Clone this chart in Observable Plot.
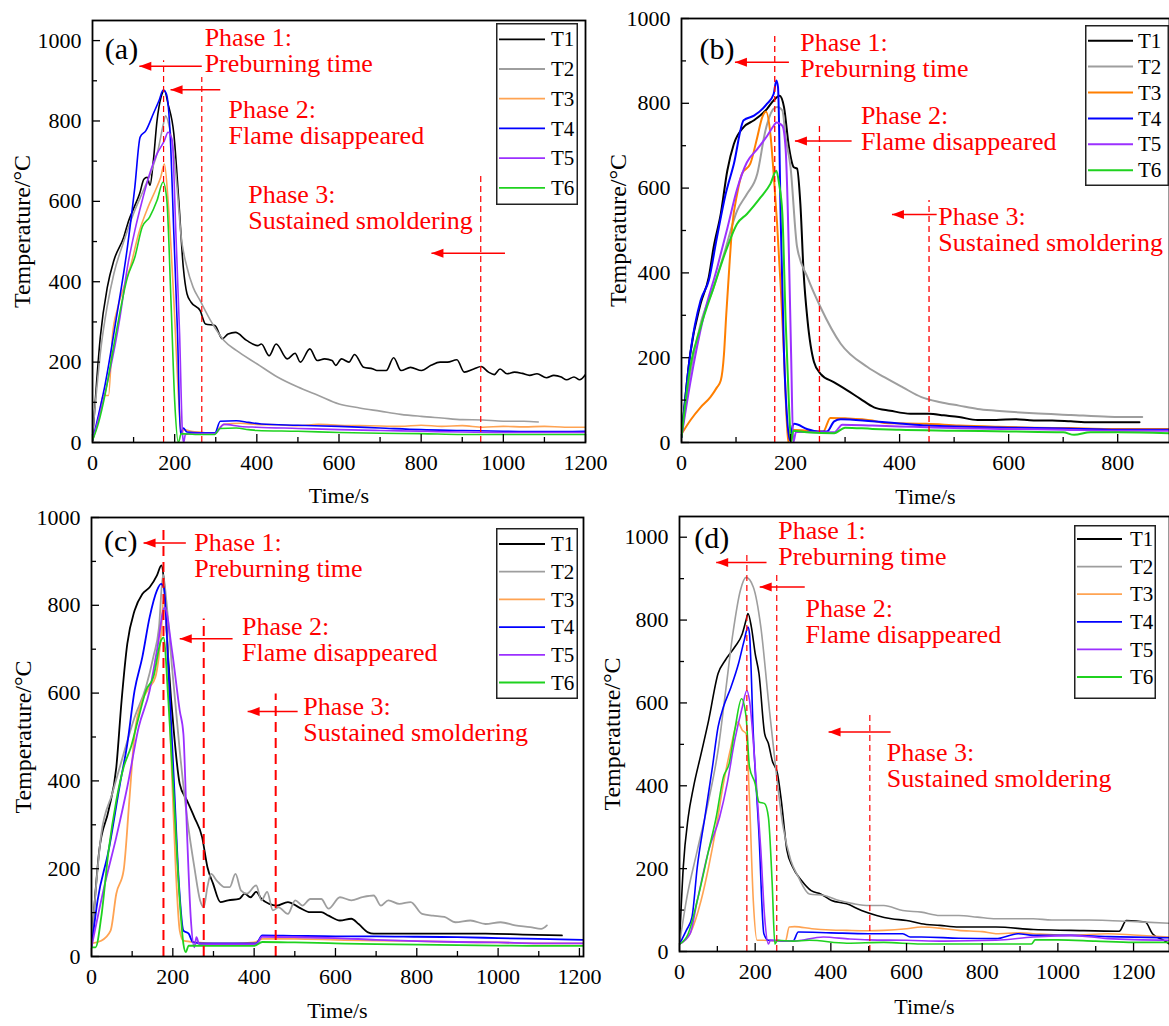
<!DOCTYPE html>
<html><head><meta charset="utf-8">
<script src="https://cdn.jsdelivr.net/npm/d3@7"></script>
<script src="https://cdn.jsdelivr.net/npm/@observablehq/plot@0.6"></script>
<style>
body{margin:0;background:#fff;}
#root{position:relative;width:1169px;height:1026px;overflow:hidden;font-family:'Liberation Serif','Times New Roman','DejaVu Serif',serif;background:#fff;}
.panel{position:absolute;}
#root svg, #root svg text{font-family:'Liberation Serif','Times New Roman','DejaVu Serif',serif !important;}
</style></head><body><div id="root"></div>
<script>
// ---------- series names and tick labels ----------
const seriesNames = ["T1","T2","T3","T4","T5","T6"];
const yMajor = [0,200,400,600,800,1000];
const yMinor = [100,300,500,700,900];
const xMajorA = [0,200,400,600,800,1000,1200];
const xMinorA = [100,300,500,700,900,1100];
const xMajorB = [0,200,400,600,800];
const xMinorB = [100,300,500,700];
const xMajorC = [0,200,400,600,800,1000,1200];
const xMinorC = [100,300,500,700,900,1100];
const xMajorD = [0,200,400,600,800,1000,1200];
const xMinorD = [100,300,500,700,900,1100];

// ---------- panel (a) ----------
const aT1 = [[0,5],[10,150],[19,262],[36,386],[52,453],[76,511],[88,552],[100,582],[115,620],[125,655],[133,660],[140,640],[148,700],[157,800],[167,860],[175,876],[184,842],[198,768],[210,602],[221,436],[230,370],[240,349],[262,328],[275,295],[298,291],[316,258],[330,270],[348,274],[375,254],[402,241],[411,245],[430,216],[447,245],[474,208],[493,222],[506,200],[529,233],[547,204],[565,208],[583,204],[592,192],[606,208],[624,200],[638,219],[660,187],[683,183],[692,179],[715,179],[733,211],[751,179],[774,187],[801,179],[824,192],[846,200],[864,200],[887,206],[905,175],[928,183],[946,189],[964,175],[978,169],[992,183],[1009,171],[1027,175],[1046,172],[1064,167],[1082,171],[1105,161],[1123,167],[1141,163],[1154,156],[1172,163],[1186,156],[1200,169]];
const aT2 = [[0,20],[10,130],[20,230],[36,340],[52,420],[76,500],[100,570],[125,630],[145,680],[160,730],[172,790],[178,813],[188,780],[198,718],[207,620],[215,520],[230,436],[245,386],[262,353],[290,299],[320,254],[350,229],[400,196],[450,163],[500,138],[550,117],[600,96],[650,86],[700,78],[750,70],[800,65],[850,61],[900,57],[950,56],[1000,53],[1050,53],[1085,51]];
const aT3 = [[0,5],[15,60],[26,117],[39,117],[49,270],[60,330],[76,386],[94,444],[112,519],[135,585],[153,627],[166,660],[175,693],[184,602],[198,353],[210,104],[216,22],[222,32],[240,28],[270,25],[298,22],[310,38],[320,45],[360,48],[400,45],[450,44],[500,42],[550,45],[600,43],[650,42],[700,41],[750,40],[800,43],[850,40],[900,42],[950,38],[1000,40],[1050,39],[1100,40],[1150,38],[1200,38]];
const aT4 = [[0,5],[15,70],[31,146],[57,303],[85,486],[103,635],[116,760],[130,776],[148,818],[162,851],[172,877],[180,867],[189,768],[198,519],[207,270],[214,22],[221,36],[230,26],[260,24],[298,24],[311,53],[350,54],[380,50],[411,46],[500,43],[600,40],[700,36],[800,32],[900,30],[1000,28],[1100,27],[1200,28]];
const aT5 = [[0,5],[20,80],[39,162],[67,312],[85,436],[103,527],[121,602],[139,668],[157,718],[175,751],[184,772],[194,751],[203,519],[212,270],[219,22],[222,0],[226,20],[240,22],[298,22],[320,45],[360,40],[400,38],[500,35],[600,32],[700,30],[800,28],[900,26],[1000,25],[1100,25],[1200,25]];
const aT6 = [[0,5],[15,50],[31,121],[57,270],[85,411],[103,461],[121,536],[139,561],[157,602],[172,648],[181,602],[191,353],[200,104],[209,0],[216,22],[250,20],[298,20],[310,35],[350,36],[380,32],[400,30],[500,28],[600,25],[700,23],[800,22],[900,20],[1000,20],[1100,20],[1200,20]];

// ---------- panel (b) ----------
const bT1 = [[0,13],[16,209],[35,327],[50,390],[59,461],[72,539],[84,641],[96,704],[114,744],[133,760],[157,787],[169,807],[180,818],[188,791],[197,697],[206,649],[212,646],[218,563],[224,400],[231,290],[243,190],[255,162],[280,142],[304,123],[328,103],[353,83],[383,75],[420,68],[454,68],[481,64],[509,60],[543,53],[577,53],[612,55],[646,52],[680,52],[714,50],[749,48],[783,48],[840,48]];
const bT2 = [[0,13],[16,162],[35,280],[59,366],[78,445],[102,547],[120,586],[139,634],[154,736],[169,787],[176,791],[185,783],[191,720],[200,649],[212,461],[231,390],[255,319],[292,233],[341,178],[372,154],[406,130],[440,107],[475,95],[509,87],[543,79],[577,75],[646,69],[714,65],[783,61],[845,60]];
const bT3 = [[0,20],[16,52],[35,83],[53,107],[65,130],[72,146],[78,210],[82,300],[87,400],[93,510],[102,586],[111,634],[126,657],[139,720],[148,767],[155,780],[163,728],[169,634],[175,523],[182,366],[188,209],[193,52],[196,0],[200,30],[230,28],[260,26],[273,58],[300,57],[350,52],[372,46],[450,44],[509,40],[580,37],[646,35],[714,34],[783,32],[895,32]];
const bT4 = [[0,13],[16,209],[35,335],[50,382],[65,484],[81,586],[96,657],[114,760],[133,771],[157,799],[169,822],[174,854],[177,838],[182,523],[188,209],[194,52],[199,5],[204,40],[207,44],[230,32],[250,26],[267,26],[280,50],[292,55],[350,50],[400,45],[450,40],[500,38],[600,35],[700,33],[800,30],[895,30]];
const bT5 = [[0,13],[16,140],[41,300],[65,410],[84,505],[102,598],[120,661],[139,692],[157,723],[169,747],[174,755],[185,747],[191,692],[197,445],[201,209],[205,0],[210,25],[250,24],[280,24],[295,42],[350,40],[400,38],[450,36],[500,34],[600,32],[700,30],[800,28],[895,28]];
const bT6 = [[0,13],[16,178],[35,272],[59,366],[84,461],[102,516],[120,539],[145,578],[163,610],[174,641],[179,610],[185,539],[191,288],[197,92],[201,0],[205,28],[230,24],[280,22],[300,35],[350,32],[400,30],[500,28],[600,26],[700,24],[720,18],[750,24],[800,24],[895,22]];

// ---------- panel (c) ----------
const cT1 = [[0,30],[10,150],[19,241],[42,333],[61,431],[74,583],[88,712],[106,788],[125,826],[143,841],[161,868],[172,891],[178,857],[189,674],[203,507],[217,393],[235,355],[253,317],[272,272],[285,204],[299,166],[317,124],[336,128],[363,131],[377,143],[391,135],[405,147],[418,131],[437,120],[455,116],[483,124],[510,112],[538,101],[565,101],[583,93],[611,82],[639,86],[657,74],[680,55],[694,52],[785,52],[877,52],[969,52],[1061,50],[1157,48]];
const cT2 = [[0,30],[24,279],[51,371],[79,462],[106,545],[134,614],[152,682],[166,750],[176,870],[184,811],[198,659],[217,469],[235,317],[253,203],[267,128],[276,112],[285,158],[294,188],[308,173],[327,158],[340,158],[354,188],[368,150],[382,143],[405,162],[418,128],[432,147],[446,105],[460,112],[483,97],[501,128],[519,116],[538,131],[565,131],[583,109],[611,135],[639,128],[666,135],[694,139],[712,116],[730,128],[757,120],[785,124],[813,97],[840,93],[868,90],[895,78],[932,82],[969,74],[1006,78],[1042,71],[1079,67],[1106,63],[1120,71]];
const cT3 = [[0,30],[24,36],[47,59],[61,143],[79,196],[93,355],[106,507],[125,583],[143,614],[157,636],[171,735],[177,811],[183,773],[194,507],[207,203],[217,59],[226,36],[260,32],[300,30],[350,30],[400,32],[420,40],[500,40],[600,38],[700,36],[800,35],[900,33],[1000,32],[1100,30],[1210,30]];
const cT4 = [[0,21],[15,128],[42,241],[70,393],[88,484],[106,606],[125,682],[143,773],[161,834],[171,849],[178,841],[189,659],[203,393],[215,166],[226,59],[239,52],[249,33],[270,30],[350,30],[405,30],[420,48],[500,47],[600,46],[700,46],[800,45],[900,44],[1000,42],[1100,40],[1210,38]];
const cT5 = [[0,21],[33,166],[61,272],[88,386],[116,522],[143,606],[161,697],[180,795],[198,697],[217,560],[226,507],[235,279],[244,90],[253,21],[258,44],[265,28],[350,28],[405,28],[420,45],[500,44],[600,42],[700,38],[800,35],[900,33],[1000,32],[1100,30],[1210,30]];
const cT6 = [[0,21],[10,21],[24,90],[42,241],[61,355],[79,431],[97,477],[116,545],[134,606],[152,636],[171,720],[177,727],[189,583],[203,355],[217,128],[226,29],[232,10],[239,25],[300,24],[400,24],[420,33],[500,32],[600,30],[700,28],[800,27],[900,26],[1000,25],[1100,24],[1210,24]];

// ---------- panel (d) ----------
const dT1 = [[0,18],[10,204],[23,324],[37,397],[57,477],[77,558],[102,671],[121,703],[146,735],[166,767],[176,800],[181,816],[190,783],[200,719],[210,671],[225,526],[235,502],[245,461],[259,429],[269,365],[284,244],[299,204],[323,171],[348,147],[373,139],[402,123],[442,115],[481,99],[521,87],[560,79],[600,75],[639,67],[688,63],[738,59],[836,59],[935,53],[1034,51],[1162,49],[1181,75],[1231,71],[1250,43],[1280,27],[1295,18]];
const dT2 = [[0,18],[18,123],[47,244],[77,365],[102,486],[121,622],[141,767],[161,872],[176,903],[195,880],[215,783],[235,606],[254,445],[274,300],[294,220],[314,180],[343,139],[383,135],[422,123],[462,115],[501,111],[540,111],[590,99],[639,95],[688,87],[738,87],[787,83],[836,79],[886,79],[935,79],[984,76],[1034,76],[1083,76],[1132,75],[1181,73],[1231,71],[1295,68]];
const dT3 = [[0,18],[28,43],[57,123],[77,204],[97,300],[116,405],[136,494],[154,554],[166,534],[176,526],[185,365],[195,123],[205,27],[220,27],[280,25],[290,59],[304,60],[350,55],[400,52],[442,51],[500,50],[540,51],[600,55],[639,59],[700,55],[738,51],[800,48],[836,43],[900,45],[935,43],[1034,39],[1132,43],[1200,40],[1295,35]];
const dT4 = [[0,18],[18,51],[33,83],[47,204],[67,324],[87,445],[102,542],[116,590],[136,638],[156,695],[171,751],[181,783],[185,767],[195,526],[210,284],[223,43],[235,27],[300,25],[314,47],[400,45],[500,43],[590,43],[610,35],[639,35],[738,32],[836,31],[895,43],[935,39],[1034,39],[1132,36],[1295,33]];
const dT5 = [[0,18],[28,43],[47,123],[77,244],[106,324],[126,405],[146,510],[166,590],[178,630],[185,606],[200,445],[215,244],[225,83],[235,18],[240,27],[300,25],[380,35],[450,30],[500,28],[600,27],[700,25],[836,27],[935,35],[1034,39],[1132,31],[1295,27]];
const dT6 = [[0,18],[23,43],[47,123],[77,244],[97,324],[116,421],[131,453],[146,534],[164,610],[176,566],[185,445],[200,405],[210,361],[225,357],[235,324],[245,163],[252,18],[259,27],[300,25],[343,27],[442,20],[540,22],[639,18],[700,18],[800,18],[930,18],[940,28],[1000,28],[1100,25],[1200,22],[1295,22]];

// ---------- annotations (time s / temperature °C) ----------
const phaseText = ["Phase 1:\nPreburning time","Phase 2:\nFlame disappeared","Phase 3:\nSustained smoldering"];
const aLines = [[173,950],[266,908],[945,672]];
const aArrows = [[266,114,936],[311,190,878],[1004,825,471]];
const aLabels = [[273,921],[331,743],[379,532]];
const bLines = [[171,960],[253,748],[454,571]];
const bArrows = [[197,98,897],[312,208,711],[468,386,538]];
const bLabels = [[218,862],[329,689],[471,451]];
const cLines = [[177,972],[276,769],[453,598]];
const cArrows = [[232,128,942],[347,217,724],[507,384,558]];
const cLabels = [[253,864],[370,672],[521,490]];
const dLines = [[178,960],[257,908],[503,570]];
const dArrows = [[230,97,939],[331,212,880],[558,394,530]];
const dLabels = [[261,932],[333,745],[548,397]];
const tags = [["(a)",30,979],["(b)",33,928],["(c)",31,946],["(d)",39,997]];

// ---------- drawing ----------
const FONT = "'Liberation Serif','Times New Roman','DejaVu Serif',serif";
const RED = "#ff0000";
const colorsLight = ["#000000","#9e9e9e","#ffa352","#0000ff","#9b30ff","#1fd21f"];
const colorsB = ["#000000","#9e9e9e","#ff7f00","#0000ff","#9b30ff","#1fd21f"];
const arrowHead = {draw(ctx){ ctx.moveTo(0,0); ctx.lineTo(12,-4.5); ctx.lineTo(12,4.5); ctx.closePath(); }};
const root = document.getElementById("root");

function panel(cfg){
  const {left, top, width, height, m, xDomain, yDomain, series, colors, lw, xMajor, xMinor, lines, arrows, labels, tag, dash, dashW, xTitleDy, yTitleDx} = cfg;
  const plotW = width - m[3] - m[1];
  const plotH = height - m[0] - m[2];
  const rows = series.flatMap((s,i) => s.map(([t,T]) => ({t, T, name: seriesNames[i]})));
  const lineRows = lines.map(([t,top]) => ({t, top}));
  const arrowRows = arrows.map(([from,to,T]) => ({from,to,T}));
  const labelRows = labels.map(([t,T],i) => ({t,T,text: phaseText[i]}));
  const tagRow = [{text: tag[0], t: tag[1], T: tag[2]}];
  const chart = Plot.plot({
    width, height,
    marginTop: m[0], marginRight: m[1], marginBottom: m[2], marginLeft: m[3],
    x: {domain: xDomain},
    y: {domain: yDomain},
    color: {domain: seriesNames, range: colors},
    style: {fontFamily: FONT, fontSize: "22px", background: "transparent", overflow: "visible", color: "#000"},
    marks: [
      Plot.line(rows, {x: "t", y: "T", z: "name", stroke: "name", strokeWidth: lw, curve: "monotone-x", clip: true}),
      Plot.ruleX(lineRows, {x: "t", y1: 0, y2: "top", stroke: RED, strokeWidth: dashW, strokeDasharray: dash}),
      Plot.link(arrowRows, {x1: "from", x2: "to", y1: "T", y2: "T", stroke: RED, strokeWidth: 1.5}),
      Plot.dot(arrowRows, {x: "to", y: "T", symbol: arrowHead, fill: RED, stroke: "none", r: 4}),
      Plot.text(labelRows, {x: "t", y: "T", text: "text", textAnchor: "start", lineAnchor: "bottom", lineHeight: 1.0, fontSize: 26, fill: RED, fontFamily: FONT}),
      Plot.text(tagRow, {x: "t", y: "T", text: "text", textAnchor: "start", lineAnchor: "middle", fontSize: 30, fill: "#000", fontFamily: FONT}),
      Plot.tickX(xMinor, {x: d => d, insetTop: plotH - 5, stroke: "#000", strokeWidth: 1.3}),
      Plot.tickX(xMajor, {x: d => d, insetTop: plotH - 8, stroke: "#000", strokeWidth: 1.3}),
      Plot.tickY(yMinor, {y: d => d, insetRight: plotW - 5, stroke: "#000", strokeWidth: 1.3}),
      Plot.tickY(yMajor, {y: d => d, insetRight: plotW - 8, stroke: "#000", strokeWidth: 1.3}),
      Plot.axisX({ticks: xMajor, tickSize: 0, tickPadding: 12, tickFormat: d => String(d), fontSize: 22, fontFamily: FONT, label: null}),
      Plot.axisY({ticks: yMajor, tickSize: 0, tickPadding: 11, tickFormat: d => String(d), fontSize: 22, fontFamily: FONT, label: null}),
      Plot.text(["Time/s"], {text: d => d, frameAnchor: "bottom", textAnchor: "middle", dy: xTitleDy, lineAnchor: "bottom", fontSize: 22, fill: "#000", fontFamily: FONT}),
      Plot.text(["Temperature/°C"], {text: d => d, frameAnchor: "left", textAnchor: "middle", lineAnchor: "middle", dx: yTitleDx, rotate: -90, fontSize: 24, fill: "#000", fontFamily: FONT}),
      Plot.frame({stroke: "#000", strokeWidth: 1.8})
    ]
  });
  const div = document.createElement("div");
  div.className = "panel";
  div.style.left = left + "px"; div.style.top = top + "px";
  div.style.width = width + "px"; div.style.height = height + "px";
  div.appendChild(chart);
  root.appendChild(div);
}

function legend(lg, colors, lw){
  const svg = d3.select(root).append("svg").attr("class","panel")
    .style("left", lg.x + "px").style("top", lg.y + "px").style("overflow","visible")
    .attr("width", lg.w).attr("height", lg.h);
  svg.append("rect").attr("x", 0.75).attr("y", 0.75).attr("width", lg.w - 1.5).attr("height", lg.h - 1.5)
    .attr("fill", "#fff").attr("stroke", "#222").attr("stroke-width", 1.5);
  seriesNames.forEach((n, i) => {
    const yy = lg.r0 + i * lg.step - lg.y;
    svg.append("line").attr("x1", lg.l0 - lg.x).attr("x2", lg.l1 - lg.x).attr("y1", yy).attr("y2", yy)
      .attr("stroke", colors[i]).attr("stroke-width", lw);
    svg.append("text").attr("x", lg.tx - lg.x).attr("y", yy).attr("dy", "0.34em")
      .style("font-family", FONT).attr("font-size", 21).attr("fill", "#000").text(n);
  });
}

panel({left: 0, top: 0, width: 590, height: 510, m: [20, 5, 68, 92], xDomain: [0, 1200], yDomain: [0, 1050],
  series: [aT1,aT2,aT3,aT4,aT5,aT6], colors: colorsLight, lw: 1.6, xMajor: xMajorA, xMinor: xMinorA,
  lines: aLines, arrows: aArrows, labels: aLabels, tag: tags[0], dash: "6,4", dashW: 1.2, xTitleDy: 60, yTitleDx: -70});
panel({left: 590, top: 0, width: 579, height: 510, m: [18, 0, 68, 91], xDomain: [0, 895], yDomain: [0, 1000],
  series: [bT1,bT2,bT3,bT4,bT5,bT6], colors: colorsB, lw: 2, xMajor: xMajorB, xMinor: xMinorB,
  lines: bLines, arrows: bArrows, labels: bLabels, tag: tags[1], dash: "6,4", dashW: 1.3, xTitleDy: 61, yTitleDx: -63});
panel({left: 0, top: 510, width: 590, height: 516, m: [7, 7, 70, 91], xDomain: [0, 1210], yDomain: [0, 1000],
  series: [cT1,cT2,cT3,cT4,cT5,cT6], colors: colorsLight, lw: 1.8, xMajor: xMajorC, xMinor: xMinorC,
  lines: cLines, arrows: cArrows, labels: cLabels, tag: tags[2], dash: "10,6", dashW: 2, xTitleDy: 61, yTitleDx: -68});
panel({left: 590, top: 510, width: 579, height: 516, m: [6, 0, 75, 89], xDomain: [0, 1295], yDomain: [0, 1050],
  series: [dT1,dT2,dT3,dT4,dT5,dT6], colors: colorsLight, lw: 1.6, xMajor: xMajorD, xMinor: xMinorD,
  lines: dLines, arrows: dArrows, labels: dLabels, tag: tags[3], dash: "6,4", dashW: 1.2, xTitleDy: 62, yTitleDx: -67});

legend({x: 496, y: 23, w: 82, h: 182, r0: 39.3, step: 29.7, l0: 499, l1: 545, tx: 551}, colorsLight, 1.8);
legend({x: 1085, y: 25, w: 84, h: 161, r0: 40.7, step: 25.9, l0: 1088, l1: 1133, tx: 1138}, colorsB, 2);
legend({x: 496, y: 528, w: 82, h: 171, r0: 544, step: 27.7, l0: 499, l1: 545, tx: 551}, colorsLight, 1.8);
legend({x: 1074, y: 525, w: 82, h: 174, r0: 539, step: 27.6, l0: 1077, l1: 1122, tx: 1130}, colorsLight, 1.8);
</script>
</body></html>
